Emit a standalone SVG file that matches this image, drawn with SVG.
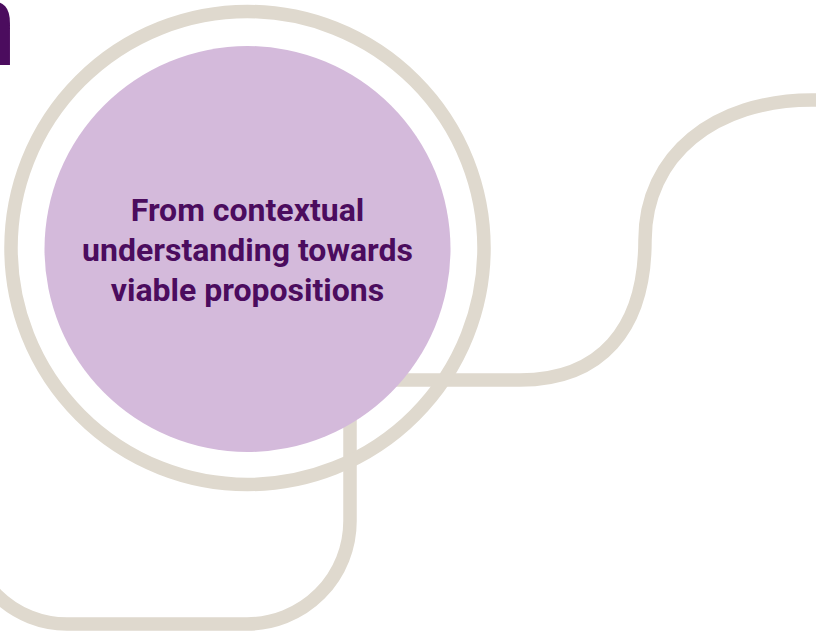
<svg xmlns="http://www.w3.org/2000/svg" width="816" height="632" viewBox="0 0 816 632">
<style>
.beige{fill:none;stroke:#DFD9CE;stroke-width:13.5}
.lbl{font-family:Roboto,"Liberation Sans",sans-serif;font-weight:700;font-size:32px;fill:#4B0C5E;text-anchor:middle}
</style>
<rect width="816" height="632" fill="#FFFFFF"/>
<g id="heading-fragment">
<text x="-48" y="65" font-family="'Liberation Sans',sans-serif" font-size="118" fill="#4B0C5E">n</text>
</g>
<g id="connectors">
<path class="beige" d="M830,100 H812 C715,100 645,155 645,240 C645,330 600,380 520,380 H390 Q350,380 350,420 V521 A103,103 0 0 1 247,624 H67 A100,100 0 0 1 -33,524"/>
</g>
<g id="ring">
<circle class="beige" cx="247.5" cy="248" r="236.5"/>
</g>
<g id="main-node">
<circle cx="247.5" cy="249" r="203" fill="#D4BADB"/>
<text class="lbl" x="247.5" y="221">From contextual</text>
<text class="lbl" x="247.5" y="261">understanding towards</text>
<text class="lbl" x="247.5" y="301">viable propositions</text>
</g>
</svg>
